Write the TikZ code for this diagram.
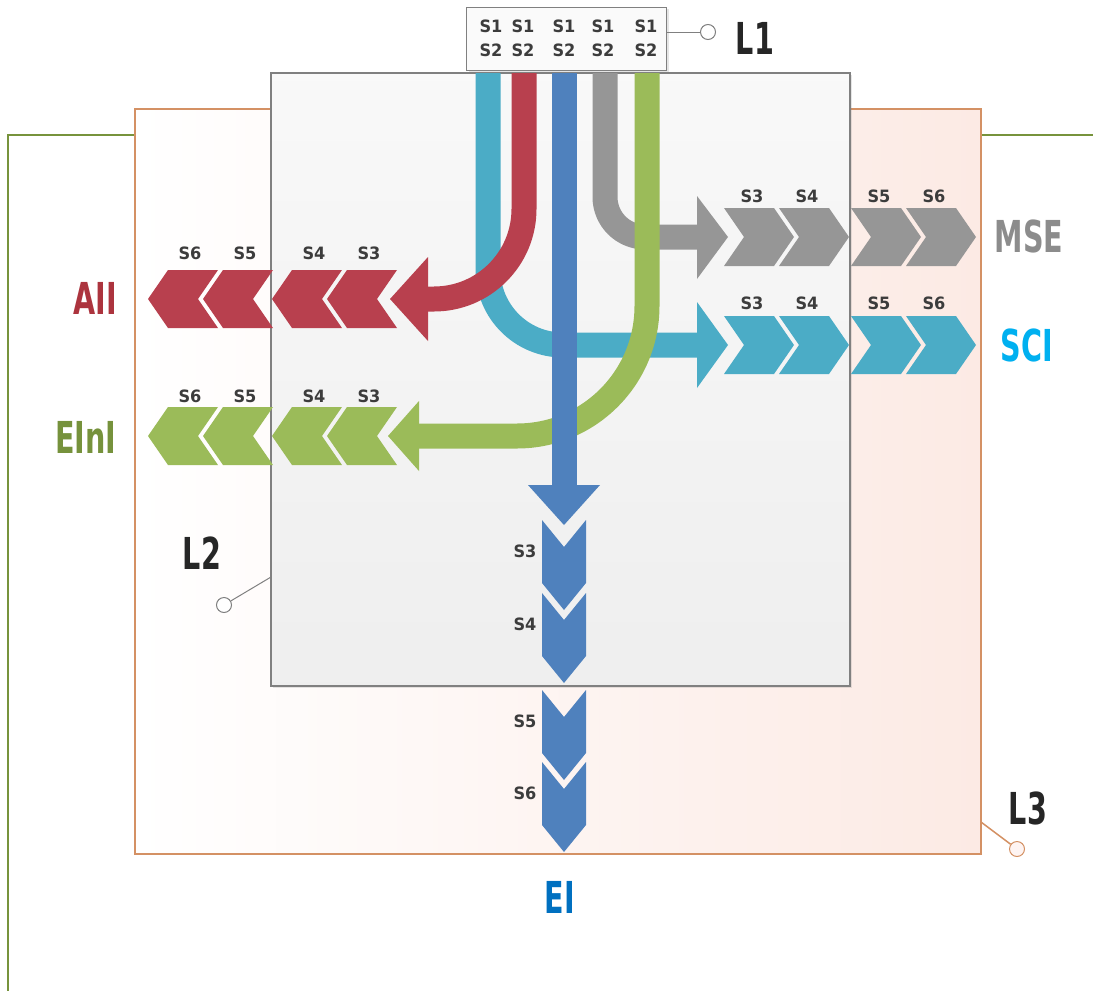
\documentclass[tikz,border=0pt]{standalone}
\usepackage{fontspec}
\setmainfont{DejaVu Sans}
\newfontfamily\bignamefont[FakeStretch=0.65]{DejaVu Sans}
\newfontfamily\stepnamefont[FakeStretch=0.95]{DejaVu Sans}
\usetikzlibrary{shadows}

\definecolor{cyanflow}{RGB}{75,172,198}
\definecolor{redflow}{RGB}{184,64,78}
\definecolor{blueflow}{RGB}{79,129,189}
\definecolor{grayflow}{RGB}{150,150,150}
\definecolor{greenflow}{RGB}{155,187,89}
\definecolor{framegreen}{RGB}{119,147,60}
\definecolor{peachline}{RGB}{212,145,100}
\definecolor{peachfill}{RGB}{252,234,228}
\definecolor{boxline}{RGB}{128,128,128}
\definecolor{darktext}{RGB}{38,38,38}
\definecolor{steptext}{RGB}{60,60,60}
\definecolor{msetext}{RGB}{140,140,140}
\definecolor{scitext}{RGB}{0,176,240}
\definecolor{aiitext}{RGB}{172,52,62}
\definecolor{einitext}{RGB}{118,146,60}
\definecolor{eitext}{RGB}{0,112,192}

\newcommand{\chevright}[3]{\fill[#1] (#2,#3-29) -- (#2+50,#3-29) -- (#2+70,#3) -- (#2+50,#3+29) -- (#2,#3+29) -- (#2+20,#3) -- cycle;}
\newcommand{\chevleft}[3]{\fill[#1] (#2,#3) -- (#2+20,#3-29) -- (#2+70,#3-29) -- (#2+50,#3) -- (#2+70,#3+29) -- (#2+20,#3+29) -- cycle;}
\newcommand{\chevdown}[3]{\fill[#1] (#2-22,#3) -- (#2,#3+27) -- (#2+22,#3) -- (#2+22,#3+63) -- (#2,#3+90) -- (#2-22,#3+63) -- cycle;}

\begin{document}
\begin{tikzpicture}[x=1pt, y=-1pt,
    flow/.style={line width=25pt},
    steplab/.style={font=\stepnamefont\bfseries\fontsize{17}{17}\selectfont, text=steptext, inner sep=0pt},
    biglab/.style={font=\bignamefont\bfseries\fontsize{44}{44}\selectfont, inner sep=0pt},
    ringmark/.style={circle, draw=#1, fill=white, minimum size=15pt, inner sep=0pt, line width=1pt}]

    \useasboundingbox[fill=white] (0,0) rectangle (1093,991);

    % L3 frame
    \draw[framegreen, line width=2pt] (8,991) -- (8,135) -- (1093,135);
    \path[draw=peachline, line width=2pt, left color=white, right color=peachfill] (135,109) rectangle (981,854);

    % L2 frame
    \path[draw=boxline, line width=1.2pt, top color=gray!5, bottom color=gray!13,
        drop shadow={opacity=0.2, shadow xshift=2pt, shadow yshift=-2pt}] (271,73) rectangle (850,686);

    % L1 box
    \node[draw=boxline, line width=1pt, fill=gray!4, minimum width=200pt, minimum height=63pt, inner sep=0pt,
        drop shadow={opacity=0.2, shadow xshift=2pt, shadow yshift=-2pt}] (l1box) at (566.5,38.5) {};
    \foreach \sx [count=\i] in {491,523,564,603,646} {
        \node[steplab] (top\i) at (\sx,26) {S1};
        \node[steplab] (bot\i) at (\sx,50) {S2};
    }

    % Flows
    \draw[flow, cyanflow, rounded corners=75pt] (488,73) |- (697,345);
    \fill[cyanflow] (697,302) -- (728,345) -- (697,388) -- cycle;
    \draw[flow, redflow, rounded corners=90pt] (524,73) |- (428,299);
    \fill[redflow] (428,257) -- (390,299) -- (428,341) -- cycle;
    \draw[flow, grayflow, rounded corners=40pt] (605,73) |- (697,237);
    \fill[grayflow] (697,196) -- (728,237) -- (697,279) -- cycle;
    \draw[flow, greenflow, rounded corners=130pt] (647,73) |- (419,436);
    \fill[greenflow] (419,401) -- (388,436) -- (419,471) -- cycle;
    \draw[flow, blueflow] (564,73) -- (564,485);
    \fill[blueflow] (528,485) -- (564,525) -- (600,485) -- cycle;

    % Steps
    \foreach \cx/\s in {724/3,779/4,851/5,906/6} {
        \chevright{grayflow}{\cx}{237}
        \node[steplab] (mse\s) at (\cx+28,196) {S\s};
        \chevright{cyanflow}{\cx}{345}
        \node[steplab] (sci\s) at (\cx+28,303) {S\s};
    }
    \foreach \tx/\s in {327/3,272/4,203/5,148/6} {
        \chevleft{redflow}{\tx}{299}
        \node[steplab] (aii\s) at (\tx+42,253) {S\s};
        \chevleft{greenflow}{\tx}{436}
        \node[steplab] (eini\s) at (\tx+42,396) {S\s};
    }
    \foreach \ty/\s in {520/3,593/4,690/5,762/6} {
        \chevdown{blueflow}{564}{\ty}
        \node[steplab] (ei\s) at (525,\ty+31) {S\s};
    }

    % Outputs
    \node[biglab, text=msetext] (mse) at (1029,236) {MSE};
    \node[biglab, text=scitext] (sci) at (1027,345) {SCI};
    \node[biglab, text=aiitext] (aii) at (95,298) {AII};
    \node[biglab, text=einitext] (eini) at (86,437) {EInI};
    \node[biglab, text=eitext] (ei) at (560,897) {EI};

    % Level marks
    \node[ringmark=boxline] (ring1) at (708,32) {};
    \draw[boxline, line width=1pt] (ring1.west -| l1box.east) -- (ring1);
    \node[biglab, text=darktext] (lab1) at (755,38) {L1};
    \node[ringmark=boxline] (ring2) at (224,605) {};
    \coordinate (edge2) at (271,577);
    \draw[boxline, line width=1pt] (ring2) -- (edge2);
    \node[biglab, text=darktext] (lab2) at (202,553) {L2};
    \node[ringmark=peachline, fill=peachfill!50] (ring3) at (1017,849) {};
    \coordinate (edge3) at (981,822);
    \draw[peachline, line width=1.5pt] (edge3) -- (ring3);
    \node[biglab, text=darktext] (lab3) at (1028,808) {L3};
\end{tikzpicture}
\end{document}
